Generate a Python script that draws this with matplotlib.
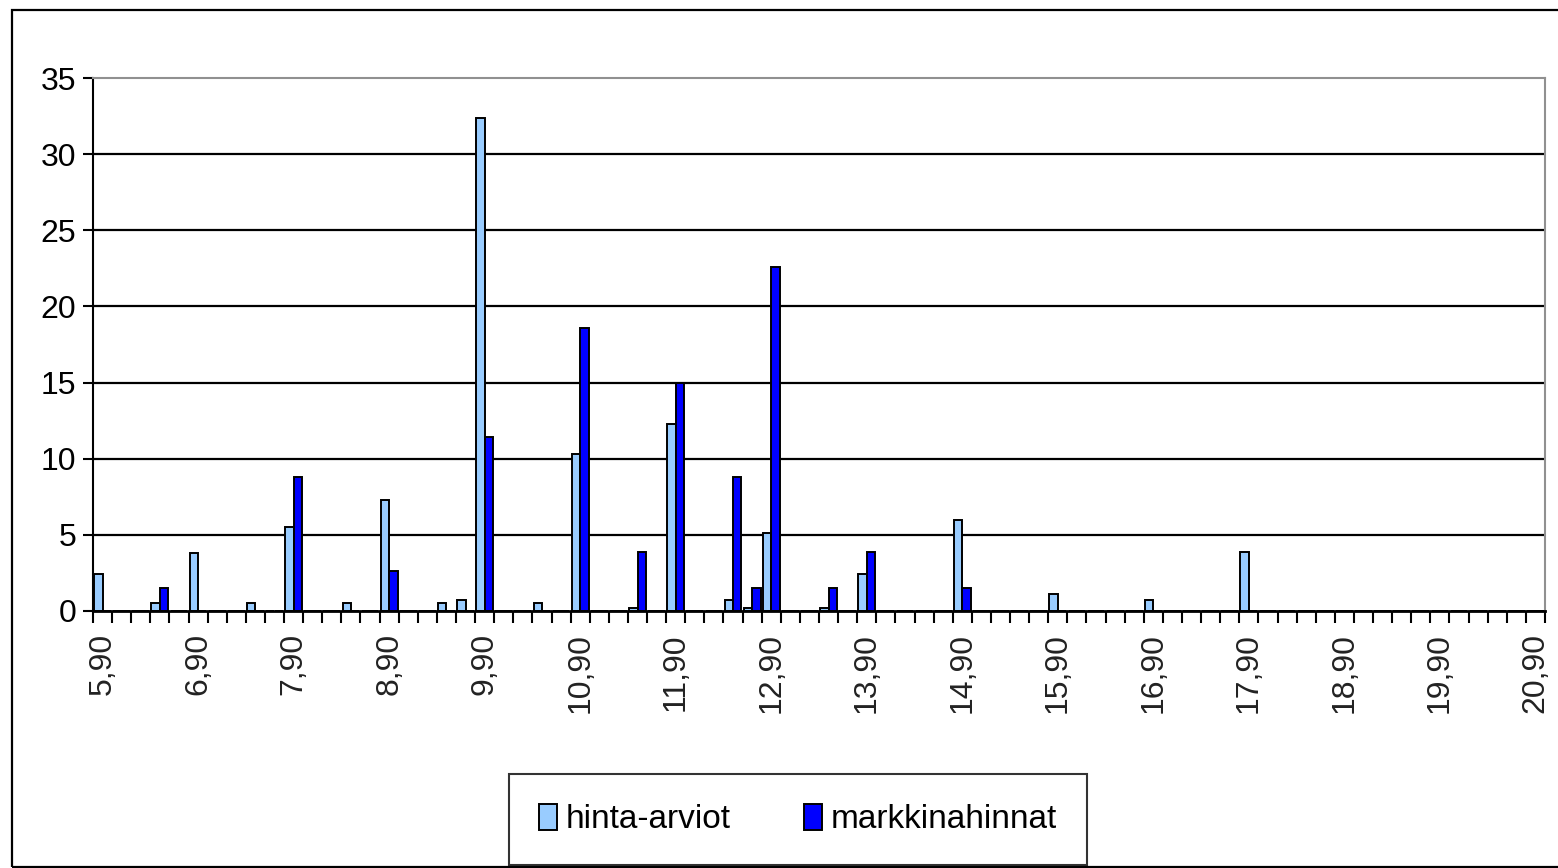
import numpy as np
import matplotlib
matplotlib.use("Agg")
import matplotlib.pyplot as plt
from matplotlib.patches import Rectangle

# price categories 5,90 ... 20,90 in steps of 0,20
categories = np.round(np.arange(5.90, 20.91, 0.20), 2)

hinta_arviot = [2.4, 0, 0, 0.5, 0, 3.8, 0, 0, 0.5, 0,
                5.5, 0, 0, 0.5, 0, 7.3, 0, 0, 0.5, 0.7,
                32.4, 0, 0, 0.5, 0, 10.3, 0, 0, 0.2, 0,
                12.3, 0, 0, 0.7, 0.2, 5.1, 0, 0, 0.2, 0,
                2.4, 0, 0, 0, 0, 6.0, 0, 0, 0, 0,
                1.1, 0, 0, 0, 0, 0.7, 0, 0, 0, 0,
                3.9, 0, 0, 0, 0, 0, 0, 0, 0, 0,
                0, 0, 0, 0, 0, 0]

markkinahinnat = [0, 0, 0, 1.5, 0, 0, 0, 0, 0, 0,
                  8.8, 0, 0, 0, 0, 2.6, 0, 0, 0, 0,
                  11.4, 0, 0, 0, 0, 18.6, 0, 0, 3.9, 0,
                  15.0, 0, 0, 8.8, 1.5, 22.6, 0, 0, 1.5, 0,
                  3.9, 0, 0, 0, 0, 1.5, 0, 0, 0, 0,
                  0, 0, 0, 0, 0, 0, 0, 0, 0, 0,
                  0, 0, 0, 0, 0, 0, 0, 0, 0, 0,
                  0, 0, 0, 0, 0, 0]

series_names = ["hinta-arviot", "markkinahinnat"]
y_ticks = [0, 5, 10, 15, 20, 25, 30, 35]
label_every = 5

font = ["Liberation Sans", "DejaVu Sans"]

W, H = 1558, 868
fig = plt.figure(figsize=(W / 100, H / 100), dpi=100)

# outer chart border
fig.patches.append(Rectangle((12 / W, 1 - 867 / H), 1.1, (867 - 10) / H,
                             transform=fig.transFigure, fill=False,
                             edgecolor="black", linewidth=1.6, zorder=0))

ax = fig.add_axes([93 / W, 1 - 611 / H, (1545 - 93) / W, (611 - 78) / H])

x = np.arange(len(categories))
w = 0.44
ax.bar(x - 0.22, hinta_arviot, w, color="#99CCFF", edgecolor="black",
       linewidth=1.4, label=series_names[0], zorder=3)
ax.bar(x + 0.22, markkinahinnat, w, color="#0000FF", edgecolor="black",
       linewidth=1.4, label=series_names[1], zorder=3)

ax.set_xlim(-0.5, len(categories) - 0.5)
ax.set_ylim(0, 35)

# horizontal gridlines
for yv in y_ticks[1:-1]:
    ax.axhline(yv, color="black", linewidth=1.6, zorder=1)

ax.spines["top"].set_color("#909090")
ax.spines["right"].set_color("#909090")
ax.spines["top"].set_linewidth(1.5)
ax.spines["right"].set_linewidth(1.5)
ax.spines["left"].set_linewidth(1.5)
ax.spines["bottom"].set_linewidth(2.0)
ax.spines["bottom"].set_zorder(4)

ax.set_yticks(y_ticks)
ax.set_yticklabels([str(v) for v in y_ticks], family=font, fontsize=23,
                   color="#222222")
ax.tick_params(axis="y", length=7, width=1.5, pad=5, colors="black")

# category boundaries as tick marks, labels at every 5th category centre
ax.set_xticks(np.arange(-0.5, len(categories), 1.0))
ax.set_xticklabels([])
ax.tick_params(axis="x", which="major", length=8.5, width=1.5)
lab_pos = x[::label_every]
ax.set_xticks(lab_pos, minor=True)
ax.set_xticklabels([f"{c:.2f}".replace(".", ",") for c in categories[::label_every]],
                   minor=True, rotation=90, family=font, fontsize=23,
                   color="#222222")
ax.tick_params(axis="x", which="minor", length=0, pad=16)

leg = fig.legend(loc="center", bbox_to_anchor=((509 + 1087) / 2 / W, 1 - (773 + 866) / 2 / H),
                 ncol=2, frameon=True, fancybox=False, edgecolor="black",
                 prop={"family": font, "size": 24}, handlelength=0.55,
                 handleheight=0.85, handletextpad=0.25, columnspacing=2.2,
                 borderpad=0.9)
leg.get_frame().set_linewidth(1.5)

fig.savefig("out.png", dpi=100)
